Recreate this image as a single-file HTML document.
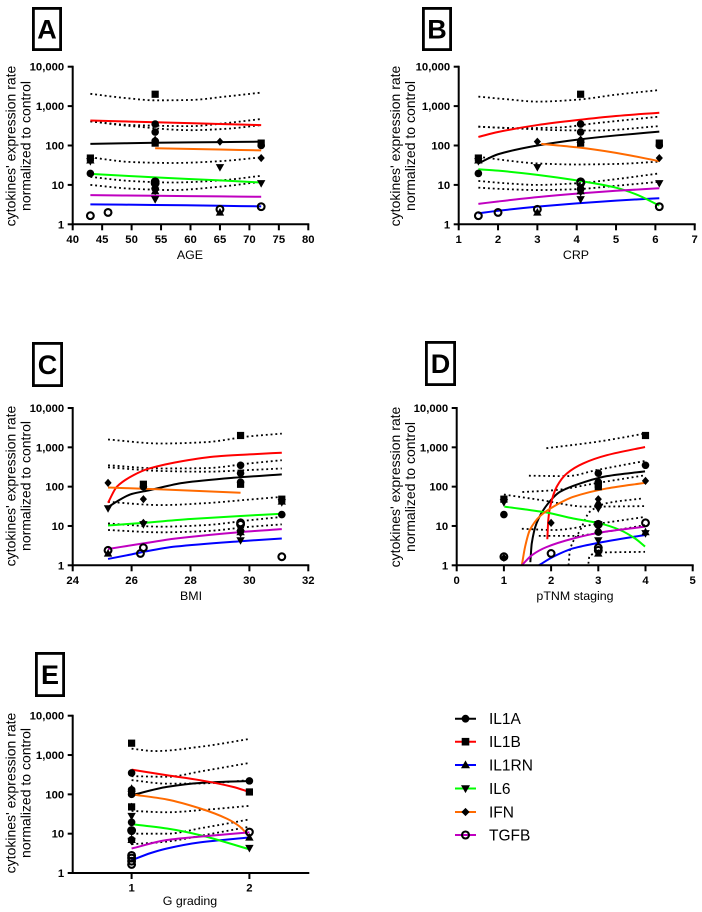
<!DOCTYPE html>
<html lang="en">
<head>
<meta charset="utf-8">
<title>Cytokine expression charts</title>
<style>
html,body{margin:0;padding:0;background:#fff;width:702px;height:912px;overflow:hidden}
svg{display:block;filter:blur(0.3px)}
text{font-family:"Liberation Sans",Arial,sans-serif;fill:#000}
</style>
</head>
<body>
<svg id="figure" xmlns="http://www.w3.org/2000/svg" width="702" height="912" viewBox="0 0 702 912">
  <g>
    <g>
      <line x1="455" x2="476" y1="718.7" y2="718.7" stroke="#000" stroke-width="2"/>
      <circle cx="465.5" cy="718.7" r="3.9" fill="#000"/>
      <text x="489" y="724.2" font-size="15.5">IL1A</text>
    </g>
    <g>
      <line x1="455" x2="476" y1="741.7" y2="741.7" stroke="#f00" stroke-width="2"/>
      <rect x="461.7" y="737.9" width="7.6" height="7.6" fill="#000"/>
      <text x="489" y="747.2" font-size="15.5">IL1B</text>
    </g>
    <g>
      <line x1="455" x2="476" y1="765" y2="765" stroke="#00f" stroke-width="2"/>
      <polygon points="465.5,760.4 470,768.3 461,768.3" fill="#000"/>
      <text x="489" y="770.5" font-size="15.5">IL1RN</text>
    </g>
    <g>
      <line x1="455" x2="476" y1="788.5" y2="788.5" stroke="#0f0" stroke-width="2"/>
      <polygon points="465.5,793.1 470,785.2 461,785.2" fill="#000"/>
      <text x="489" y="794" font-size="15.5">IL6</text>
    </g>
    <g>
      <line x1="455" x2="476" y1="812" y2="812" stroke="#ff6a00" stroke-width="2"/>
      <polygon points="465.5,807.9 469.6,812 465.5,816.1 461.4,812" fill="#000"/>
      <text x="489" y="817.5" font-size="15.5">IFN</text>
    </g>
    <g>
      <line x1="455" x2="476" y1="835" y2="835" stroke="#c000c0" stroke-width="2"/>
      <circle cx="465.5" cy="835" r="3.5" fill="none" stroke="#000" stroke-width="2.1"/>
      <text x="489" y="840.5" font-size="15.5">TGFB</text>
    </g>
  </g>
</svg>
<script>
const yTickValues = [1, 10, 100, 1000, 10000];
const yTickLabels = ['1', '10', '100', '1,000', '10,000'];
const yTitleLines = ["cytokines' expression rate", 'normalized to control'];
const seriesNames = ['IL1A', 'IL1B', 'IL1RN', 'IL6', 'IFN', 'TGFB'];

/* Panel A: AGE */
const ageTicks = [40, 45, 50, 55, 60, 65, 70, 75, 80];
const ageFitIL1A = [[43,110],[54,117],[65,122],[72,125]];
const ageFitIL1B = [[43,430],[54,390],[65,350],[72,330]];
const ageFitIL1RN = [[43,3.2],[54,3.1],[65,2.95],[72,2.85]];
const ageFitIL6 = [[43,19],[54,15.5],[65,13],[72,11.5]];
const ageFitIFN = [[54,85],[65,79],[72,75]];
const ageFitTGFB = [[43,5.5],[54,5.3],[65,5.1],[72,5]];
const agePtsIL1A = [[43,19.5],[54,350],[54,220],[54,130],[54,12],[54,8],[72,100]];
const agePtsIL1B = [[54,2000],[43,48],[54,115],[72,115]];
const agePtsIL1RN = [[65,2],[54,7],[54,140],[43,42]];
const agePtsIL6 = [[65,28],[72,11],[54,4.3],[54,7],[43,40]];
const agePtsIFN = [[65,125],[72,48],[54,130],[54,8]];
const agePtsTGFB = [[43,1.65],[46,2],[54,12],[54,11],[65,2.4],[72,2.8]];
const ageBand1 = [[43,2050],[49,1600],[54,1400],[60,1430],[66,1750],[72,2200]];
const ageBand2 = [[43,410],[50,330],[60,310],[66,370],[72,470]];
const ageBand3 = [[43,410],[50,310],[60,245],[66,265],[72,330]];
const ageBand4 = [[43,50],[50,38],[57,36],[65,40],[72,50]];
const ageBand5 = [[43,16],[50,12.5],[57,11.5],[65,13],[72,17]];
const ageBand6 = [[43,10],[50,8],[57,7.4],[65,9],[72,12]];

/* Panel B: CRP */
const crpTicks = [1, 2, 3, 4, 5, 6, 7];
const crpFitIL1A = [[1.5,35],[2,60],[3,100],[4,140],[5,180],[6.1,225]];
const crpFitIL1B = [[1.5,165],[2,220],[3,330],[4,440],[5,560],[6.1,680]];
const crpFitIL1RN = [[1.5,1.9],[2,2.2],[3,2.8],[4,3.4],[5,4],[6.1,4.6]];
const crpFitIL6 = [[1.5,25],[2,23],[3,18],[4,13],[5,8.5],[5.5,5.8],[6.1,3]];
const crpFitIFN = [[3.1,110],[4,90],[5,65],[6.1,40]];
const crpFitTGFB = [[1.5,3.3],[2,3.8],[3,4.9],[4,6],[5,7.1],[6.1,8.2]];
const crpPtsIL1A = [[1.5,19.5],[4.1,350],[4.1,220],[4.1,130],[4.1,8],[6.1,100]];
const crpPtsIL1B = [[4.1,2000],[1.5,48],[4.1,115],[6.1,115]];
const crpPtsIL1RN = [[3,2],[4.1,7],[4.1,140],[1.5,42]];
const crpPtsIL6 = [[3,28],[6.1,11],[4.1,4.3],[1.5,40],[4.1,6.5]];
const crpPtsIFN = [[3,125],[6.1,48],[4.1,7],[4.1,140]];
const crpPtsTGFB = [[1.5,1.65],[2,2],[3,2.4],[4.1,12],[4.1,11],[6.1,2.8]];
const crpBand1 = [[1.5,1740],[2.2,1500],[3,1300],[4,1450],[5,1950],[6.1,2560]];
const crpBand2 = [[1.5,300],[2.5,275],[3.5,285],[4.5,370],[6.1,540]];
const crpBand3 = [[1.5,300],[2.5,270],[3.5,245],[4.5,240],[6.1,310]];
const crpBand4 = [[1.5,52],[2.2,42],[3,35],[4,33],[5,34],[6.1,39]];
const crpBand5 = [[1.5,12.6],[2.2,11],[3,10],[4,11],[5,14],[6.1,19.6]];
const crpBand6 = [[1.5,8.5],[2.2,7.8],[3,7.4],[4,7.8],[5,9.5],[6.1,12]];

/* Panel C: BMI */
const bmiTicks = [24, 26, 28, 30, 32];
const bmiFitIL1A = [[25.2,30],[25.5,42],[26,65],[26.6,81],[27.75,125],[29.45,168],[31.1,205]];
const bmiFitIL1B = [[25.2,39],[25.5,100],[26.06,195],[26.6,290],[27.75,450],[28.9,590],[30,660],[31.1,730]];
const bmiFitIL1RN = [[25.2,1.45],[26,1.9],[26.4,2.2],[27.5,3],[29.7,4.1],[31.1,4.8]];
const bmiFitIL6 = [[25.2,10.3],[26.4,12],[28,15],[29.7,18],[31.1,20.5]];
const bmiFitIFN = [[25.2,95],[27,85],[29.7,70]];
const bmiFitTGFB = [[25.2,2.6],[26.4,3.6],[27.5,4.8],[29.7,7],[31.1,8.3]];
const bmiPtsIL1A = [[31.1,19.5],[29.7,350],[29.7,220],[26.4,100],[29.7,130],[29.7,7.5]];
const bmiPtsIL1B = [[29.7,2000],[31.1,48],[29.7,115],[26.4,115]];
const bmiPtsIL1RN = [[25.2,2],[29.7,7],[31.1,42]];
const bmiPtsIL6 = [[25.2,28],[26.4,11],[29.7,4.3],[31.1,40],[29.7,6.5]];
const bmiPtsIFN = [[25.2,125],[26.4,48],[29.7,7],[26.4,12]];
const bmiPtsTGFB = [[31.1,1.65],[26.3,2],[26.4,2.8],[25.2,2.4],[29.7,12],[29.7,11]];
const bmiBand1 = [[25.2,1580],[27,1250],[28.5,1350],[30,1900],[31.1,2230]];
const bmiBand2 = [[25.2,350],[27,290],[28.5,295],[30,390],[31.1,470]];
const bmiBand3 = [[25.2,310],[27,250],[28.5,240],[30,265],[31.1,290]];
const bmiBand4 = [[25.2,41],[27,34],[28.5,38],[30,47],[31.1,55]];
const bmiBand5 = [[25.2,11.6],[27,9.6],[28.5,10.5],[30,14],[31.1,17]];
const bmiBand6 = [[25.2,7.9],[27,6.9],[28.5,7.4],[30,9.5],[31.1,11]];

/* Panel D: pTNM staging */
const tnmTicks = [0, 1, 2, 3, 4, 5];
const tnmFitIL1A = [[1.56,1.2],[1.59,3.6],[1.69,11.6],[1.91,34],[2.19,74],[2.61,120],[3.18,185],[3.99,245]];
const tnmFitIL1B = [[1.92,4.6],[1.94,14],[1.98,31],[2.12,100],[2.33,215],[2.68,390],[3.18,630],[3.99,1020]];
const tnmFitIL1RN = [[1.74,1],[2.05,1.66],[2.47,2.7],[3.04,3.8],[3.99,5.9]];
const tnmFitIL6 = [[1.01,31],[1.9,22],[2.47,15.5],[3.04,11.6],[3.46,7.9],[3.78,4.8],[3.99,3]];
const tnmFitIFN = [[1.38,1],[1.45,3],[1.55,7.9],[1.77,18],[2.05,31],[2.47,55],[3.18,90],[3.99,125]];
const tnmFitTGFB = [[1.38,1],[1.59,1.8],[1.9,2.9],[2.47,4.8],[3.04,6.8],[3.99,9.6]];
const tnmPtsIL1A = [[1,19.5],[3,220],[4,350],[3,130],[3,11],[3,7]];
const tnmPtsIL1B = [[1,48],[4,2000],[3,115],[3,100]];
const tnmPtsIL1RN = [[3,2],[4,7],[3,8],[3,40]];
const tnmPtsIL6 = [[1,40],[3,28],[3,11],[3,4.3],[4,6.5]];
const tnmPtsIFN = [[1,1.55],[2,12],[4,140],[3,48],[3,30]];
const tnmPtsTGFB = [[1,1.65],[2,2],[3,2.4],[3,2.8],[4,12],[3,11]];
const tnmBand1 = [[1.9,950],[2.97,1380],[3.99,2240]];
const tnmBand2 = [[1.53,190],[2.33,185],[2.97,265],[3.99,450]];
const tnmBand3 = [[1,63],[1.77,46],[2.75,31],[3.99,32]];
const tnmBand4 = [[1.39,73],[2.05,81],[3,125],[3.99,195]];
const tnmBand5 = [[2.37,1],[2.4,2.5],[2.62,8],[2.82,23],[3.18,38],[3.92,50]];
const tnmBand6 = [[1.38,8.5],[2.05,7.9],[3.04,11.6],[3.99,17]];
const tnmBand7 = [[1.74,5.6],[2.47,5.6],[3.18,7.2],[3.99,10.5]];
const tnmBand8 = [[2.79,1.1],[2.81,1.66],[2.97,2.1],[3.99,2.2]];

/* Panel E: G grading */
const gradeTicks = [1, 2];
const gradeFitIL1A = [[1,95],[1.3,155],[1.58,195],[2,219]];
const gradeFitIL1B = [[1,426],[1.3,306],[1.58,229],[1.86,155],[2,115]];
const gradeFitIL1RN = [[1,2.1],[1.16,3.2],[1.3,4.2],[1.58,6],[2,8]];
const gradeFitIL6 = [[1,17.5],[1.3,13.5],[1.58,9.2],[2,4]];
const gradeFitIFN = [[1,100],[1.3,74],[1.58,44],[1.81,24],[1.92,15],[2,8.3]];
const gradeFitTGFB = [[1,4.2],[1.3,6.9],[1.58,8.4],[2,10.8]];
const gradePtsIL1A = [[1,350],[2,220],[1,100],[1,130],[1,19.5],[1,7]];
const gradePtsIL1B = [[1,2000],[1,48],[1,115],[2,115]];
const gradePtsIL1RN = [[1,140],[1,7],[2,8]];
const gradePtsIL6 = [[1,28],[1,11],[1,6.5],[2,4.3]];
const gradePtsIFN = [[1,125],[1,48],[1,6.5],[1,12]];
const gradePtsTGFB = [[1,1.65],[1,2],[1,2.4],[1,2.8],[1,12],[2,11]];
const gradeBand1 = [[1,1450],[1.2,1260],[1.6,1650],[2,2560]];
const gradeBand2 = [[1,290],[1.3,280],[1.6,390],[2,630]];
const gradeBand3 = [[1,230],[1.3,187],[1.6,190],[2,230]];
const gradeBand4 = [[1,38],[1.3,35],[1.6,40],[2,51]];
const gradeBand5 = [[1,10],[1.3,10],[1.6,14],[2,23]];
const gradeBand6 = [[1,5.4],[1.3,6.3],[1.6,9],[2,15]];

const seriesColors = ['#000000', '#ff0000', '#0000ff', '#00ff00', '#ff6a00', '#c000c0'];

const panels = [
  {key:'a', letter:'A', title:'AGE', min:40, max:80, ticks:ageTicks,
   left:72.7, right:308.3, top:66.7, bottom:224.3, titleX:190, titleY:259, yt1:11, yt2:26, ytc:146,
   box:[32,7,30,44],
   bands:[ageBand1,ageBand2,ageBand3,ageBand4,ageBand5,ageBand6],
   fits:[ageFitIL1A,ageFitIL1B,ageFitIL1RN,ageFitIL6,ageFitIFN,ageFitTGFB],
   pts:[agePtsIL1A,agePtsIL1B,agePtsIL1RN,agePtsIL6,agePtsIFN,agePtsTGFB]},
  {key:'b', letter:'B', title:'CRP', min:1, max:7, ticks:crpTicks,
   left:458.7, right:694.7, top:66.7, bottom:224.3, titleX:576, titleY:259, yt1:395.7, yt2:410.7, ytc:146,
   box:[422,7,30,44],
   bands:[crpBand1,crpBand2,crpBand3,crpBand4,crpBand5,crpBand6],
   fits:[crpFitIL1A,crpFitIL1B,crpFitIL1RN,crpFitIL6,crpFitIFN,crpFitTGFB],
   pts:[crpPtsIL1A,crpPtsIL1B,crpPtsIL1RN,crpPtsIL6,crpPtsIFN,crpPtsTGFB]},
  {key:'c', letter:'C', title:'BMI', min:24, max:32, ticks:bmiTicks,
   left:72.7, right:308.3, top:408, bottom:565.3, titleX:191, titleY:600, yt1:11, yt2:26, ytc:486,
   box:[32,342,31,45],
   bands:[bmiBand1,bmiBand2,bmiBand3,bmiBand4,bmiBand5,bmiBand6],
   fits:[bmiFitIL1A,bmiFitIL1B,bmiFitIL1RN,bmiFitIL6,bmiFitIFN,bmiFitTGFB],
   pts:[bmiPtsIL1A,bmiPtsIL1B,bmiPtsIL1RN,bmiPtsIL6,bmiPtsIFN,bmiPtsTGFB]},
  {key:'d', letter:'D', title:'pTNM staging', min:0, max:5, ticks:tnmTicks,
   left:456.7, right:692.7, top:408, bottom:565.3, titleX:575, titleY:600, yt1:395.7, yt2:410.7, ytc:487,
   box:[425,341,31,45],
   bands:[tnmBand1,tnmBand2,tnmBand3,tnmBand4,tnmBand5,tnmBand6,tnmBand7,tnmBand8],
   fits:[tnmFitIL1A,tnmFitIL1B,tnmFitIL1RN,tnmFitIL6,tnmFitIFN,tnmFitTGFB],
   pts:[tnmPtsIL1A,tnmPtsIL1B,tnmPtsIL1RN,tnmPtsIL6,tnmPtsIFN,tnmPtsTGFB]},
  {key:'e', letter:'E', title:'G grading', min:0.5, max:2.5, ticks:gradeTicks,
   left:72.7, right:308.3, top:715.7, bottom:873, titleX:190, titleY:905, yt1:11, yt2:26, ytc:793,
   box:[35,652,30,45],
   bands:[gradeBand1,gradeBand2,gradeBand3,gradeBand4,gradeBand5,gradeBand6],
   fits:[gradeFitIL1A,gradeFitIL1B,gradeFitIL1RN,gradeFitIL6,gradeFitIFN,gradeFitTGFB],
   pts:[gradePtsIL1A,gradePtsIL1B,gradePtsIL1RN,gradePtsIL6,gradePtsIFN,gradePtsTGFB]}
];

const NS = 'http://www.w3.org/2000/svg';
const figure = document.getElementById('figure');

function make(tag, attrs, parent, content) {
  const node = document.createElementNS(NS, tag);
  for (const k in attrs) node.setAttribute(k, attrs[k]);
  if (content !== undefined) node.textContent = content;
  parent.appendChild(node);
  return node;
}

/* Monotone cubic spline through pixel points (x strictly increasing). */
function smoothPath(pixels) {
  const n = pixels.length;
  const secants = [];
  for (let i = 0; i < n - 1; i++) {
    secants.push((pixels[i + 1][1] - pixels[i][1]) / (pixels[i + 1][0] - pixels[i][0]));
  }
  const slopes = [secants[0]];
  for (let i = 1; i < n - 1; i++) {
    const a = secants[i - 1];
    const b = secants[i];
    slopes.push(a * b <= 0 ? 0 : 2 * a * b / (a + b));
  }
  slopes.push(secants[n - 2]);
  let d = 'M' + pixels[0][0].toFixed(2) + ' ' + pixels[0][1].toFixed(2);
  for (let i = 0; i < n - 1; i++) {
    const h = (pixels[i + 1][0] - pixels[i][0]) / 3;
    d += 'C' + (pixels[i][0] + h).toFixed(2) + ' ' + (pixels[i][1] + slopes[i] * h).toFixed(2) + ' ' +
      (pixels[i + 1][0] - h).toFixed(2) + ' ' + (pixels[i + 1][1] - slopes[i + 1] * h).toFixed(2) + ' ' +
      pixels[i + 1][0].toFixed(2) + ' ' + pixels[i + 1][1].toFixed(2);
  }
  return d;
}

function drawMarker(seriesIndex, cx, cy, parent) {
  if (seriesIndex === 0) return make('circle', {cx: cx, cy: cy, r: 3.8, fill: '#000'}, parent);
  if (seriesIndex === 1) return make('rect', {x: cx - 3.6, y: cy - 3.6, width: 7.2, height: 7.2, fill: '#000'}, parent);
  if (seriesIndex === 2) return make('polygon', {points: cx + ',' + (cy - 4.4) + ' ' + (cx + 4.2) + ',' + (cy + 3.2) + ' ' + (cx - 4.2) + ',' + (cy + 3.2), fill: '#000'}, parent);
  if (seriesIndex === 3) return make('polygon', {points: cx + ',' + (cy + 4.4) + ' ' + (cx + 4.2) + ',' + (cy - 3.2) + ' ' + (cx - 4.2) + ',' + (cy - 3.2), fill: '#000'}, parent);
  if (seriesIndex === 4) return make('polygon', {points: cx + ',' + (cy - 4.1) + ' ' + (cx + 3.6) + ',' + cy + ' ' + cx + ',' + (cy + 4.1) + ' ' + (cx - 3.6) + ',' + cy, fill: '#000'}, parent);
  return make('circle', {cx: cx, cy: cy, r: 3.4, fill: 'none', stroke: '#000', 'stroke-width': 2.1}, parent);
}

panels.forEach(function (panel) {
  const xScale = function (v) { return panel.left + (v - panel.min) / (panel.max - panel.min) * (panel.right - panel.left); };
  const yScale = function (v) { return panel.bottom - Math.log10(v) / 4 * (panel.bottom - panel.top); };
  const toPixels = function (pairs) { return pairs.map(function (p) { return [xScale(p[0]), yScale(p[1])]; }); };

  const group = make('g', {}, figure);
  
  

  const badge = make('g', {}, group);
  
  
  make('rect', {x: panel.box[0] + 1.4, y: panel.box[1] + 1.4, width: panel.box[2] - 2.8, height: panel.box[3] - 2.8, fill: '#fff', stroke: '#000', 'stroke-width': 2.8}, badge);
  make('text', {x: panel.box[0] + panel.box[2] / 2, y: panel.box[1] + panel.box[3] / 2 + 9.5, 'font-size': 27, 'font-weight': 'bold', 'text-anchor': 'middle'}, badge, panel.letter);

  panel.bands.forEach(function (band, i) {
    const path = make('path', {d: smoothPath(toPixels(band)), fill: 'none', stroke: '#000', 'stroke-width': 1.8, 'stroke-dasharray': '1.9 2.9'}, group);
    
    
  });

  panel.fits.forEach(function (fit, i) {
    const path = make('path', {d: smoothPath(toPixels(fit)), fill: 'none', stroke: seriesColors[i], 'stroke-width': 2}, group);
    
    
  });

  panel.pts.forEach(function (points, i) {
    points.forEach(function (p) {
      const marker = drawMarker(i, xScale(p[0]), yScale(p[1]), group);
      
      
    });
  });

  const xAxis = make('g', {}, group);
  
  
  make('line', {x1: panel.left - 1, x2: panel.right + 1, y1: panel.bottom, y2: panel.bottom, stroke: '#000', 'stroke-width': 2}, xAxis);
  panel.ticks.forEach(function (t) {
    const px = xScale(t);
    make('line', {x1: px, x2: px, y1: panel.bottom, y2: panel.bottom + 6, stroke: '#000', 'stroke-width': 2}, xAxis);
    const label = make('text', {x: px, y: panel.bottom + 18.5, 'font-size': 11.3, 'font-weight': 'bold', 'text-anchor': 'middle'}, xAxis, String(t));
    
    
  });

  const yAxis = make('g', {}, group);
  
  
  make('line', {x1: panel.left, x2: panel.left, y1: panel.top - 1, y2: panel.bottom + 1, stroke: '#000', 'stroke-width': 2}, yAxis);
  yTickValues.forEach(function (t, i) {
    const py = yScale(t);
    make('line', {x1: panel.left - 5, x2: panel.left, y1: py, y2: py, stroke: '#000', 'stroke-width': 2}, yAxis);
    const label = make('text', {x: panel.left - 8.5, y: py + 4, 'font-size': 11.3, 'font-weight': 'bold', 'text-anchor': 'end'}, yAxis, yTickLabels[i]);
    
    
  });

  const xTitle = make('text', {x: panel.titleX, y: panel.titleY, 'font-size': 12.4, 'text-anchor': 'middle'}, group, panel.title);
  
  

  [panel.yt1, panel.yt2].forEach(function (cx, i) {
    const title = make('text', {transform: 'translate(' + (cx + 4.5) + ' ' + panel.ytc + ') rotate(-90)', 'font-size': 14, 'text-anchor': 'middle'}, group, yTitleLines[i]);
    
    
  });
});
</script>
</body>
</html>
